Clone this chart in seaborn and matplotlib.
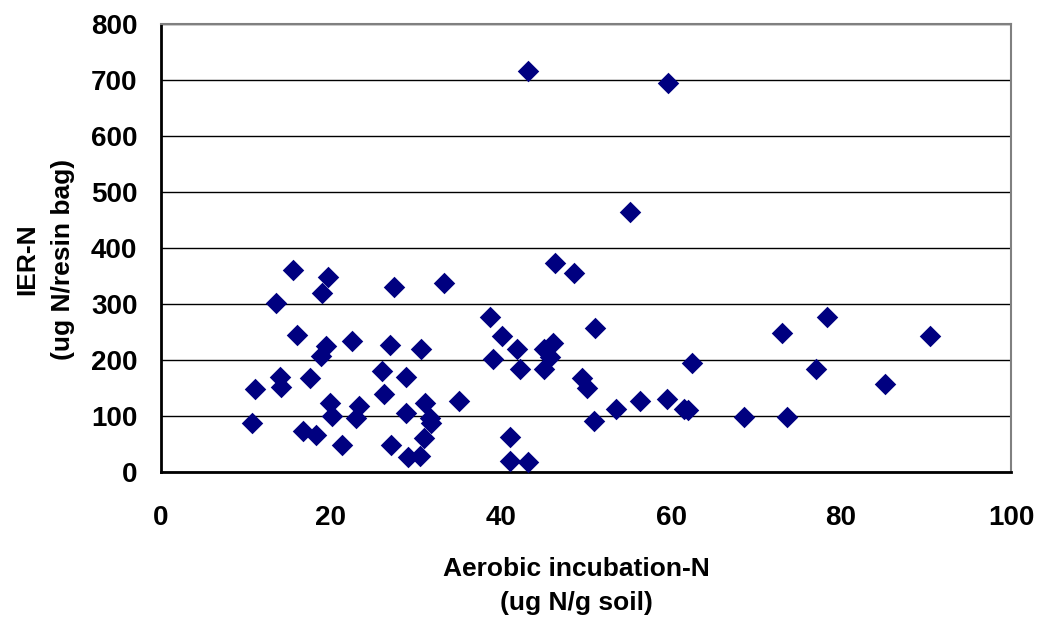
import matplotlib
matplotlib.use("Agg")
import matplotlib.pyplot as plt
import seaborn as sns
import pandas as pd

# Aerobic incubation-N (ug N/g soil)
aerobic_n = [
    10.7, 11.0, 13.5, 14.0, 14.1, 15.5, 16.0, 16.7, 17.5, 18.2,
    18.9, 18.8, 19.4, 19.7, 19.9, 20.1, 21.3, 22.5, 22.9, 23.3,
    26.0, 26.2, 26.9, 27.1, 27.4, 28.8, 28.8, 29.0, 30.5, 30.6,
    30.9, 31.1, 31.6, 31.8, 33.3, 35.1, 38.7, 39.1, 40.1, 41.0,
    41.1, 41.9, 42.2, 43.2, 43.2, 45.0, 45.0, 46.1, 45.8, 46.3,
    48.6, 49.5, 50.1, 51.1, 50.9, 53.5, 55.2, 56.4, 59.5, 59.6,
    61.5, 62.0, 62.5, 68.6, 73.0, 73.6, 77.0, 78.4, 85.2, 90.5,
]
# IER-N (ug N/resin bag)
ier_n = [
    88, 148, 301, 169, 151, 361, 245, 73, 168, 66,
    320, 207, 225, 349, 124, 100, 48, 234, 97, 118,
    180, 139, 227, 48, 331, 170, 106, 26, 29, 220,
    60, 124, 96, 87, 338, 127, 277, 202, 243, 63,
    20, 220, 184, 716, 17, 220, 184, 230, 205, 374,
    356, 168, 150, 258, 91, 113, 464, 127, 131, 695,
    113, 111, 195, 99, 249, 99, 184, 276, 157, 242,
]
x_ticks = [0, 20, 40, 60, 80, 100]
y_ticks = [0, 100, 200, 300, 400, 500, 600, 700, 800]

df = pd.DataFrame({"aerobic": aerobic_n, "ier": ier_n})

sns.set_style("white")
plt.rcParams["font.family"] = ["Liberation Sans", "DejaVu Sans"]
plt.rcParams["font.weight"] = "bold"
plt.rcParams["text.color"] = "black"
plt.rcParams["xtick.color"] = "black"
plt.rcParams["ytick.color"] = "black"

fig = plt.figure(figsize=(10.37, 6.19), dpi=100)
ax = fig.add_axes([161 / 1037, 1 - 472 / 619, 850 / 1037, 448 / 619])

ax.set_axisbelow(True)
ax.yaxis.grid(True, color="black", linewidth=1.0)
ax.xaxis.grid(False)

sns.scatterplot(data=df, x="aerobic", y="ier", marker="D", s=120,
                color="#000080", edgecolor="#000080", linewidth=0, ax=ax,
                zorder=3, clip_on=False)

ax.set_xlim(0, 100)
ax.set_ylim(0, 800)
ax.set_xticks(x_ticks)
ax.set_yticks(y_ticks)
ax.set_xticklabels([str(v) for v in x_ticks])
ax.set_yticklabels([str(v) for v in y_ticks])

for side in ("left", "bottom"):
    ax.spines[side].set_color("black")
    ax.spines[side].set_linewidth(2.0)
for side in ("top", "right"):
    ax.spines[side].set_color("#808080")
    ax.spines[side].set_linewidth(1.5)

ax.tick_params(axis="both", which="major", direction="out", length=7,
               width=1.8, color="black", labelcolor="black", labelsize=20)
ax.tick_params(axis="y", pad=10)
ax.tick_params(axis="x", pad=17)
for lab in ax.get_xticklabels() + ax.get_yticklabels():
    lab.set_fontweight("bold")

ax.set_xlabel("")
ax.set_ylabel("")
fig.text(576 / 1037, 1 - 586 / 619, "Aerobic incubation-N\n(ug N/g soil)",
         ha="center", va="center", fontsize=19, fontweight="bold",
         color="black", linespacing=1.5)
fig.text(45 / 1037, 1 - 259 / 619, "IER-N\n(ug N/resin bag)",
         ha="center", va="center", rotation=90, fontsize=19,
         fontweight="bold", color="black", linespacing=1.6)

fig.savefig("out.png", dpi=100, facecolor="white")
